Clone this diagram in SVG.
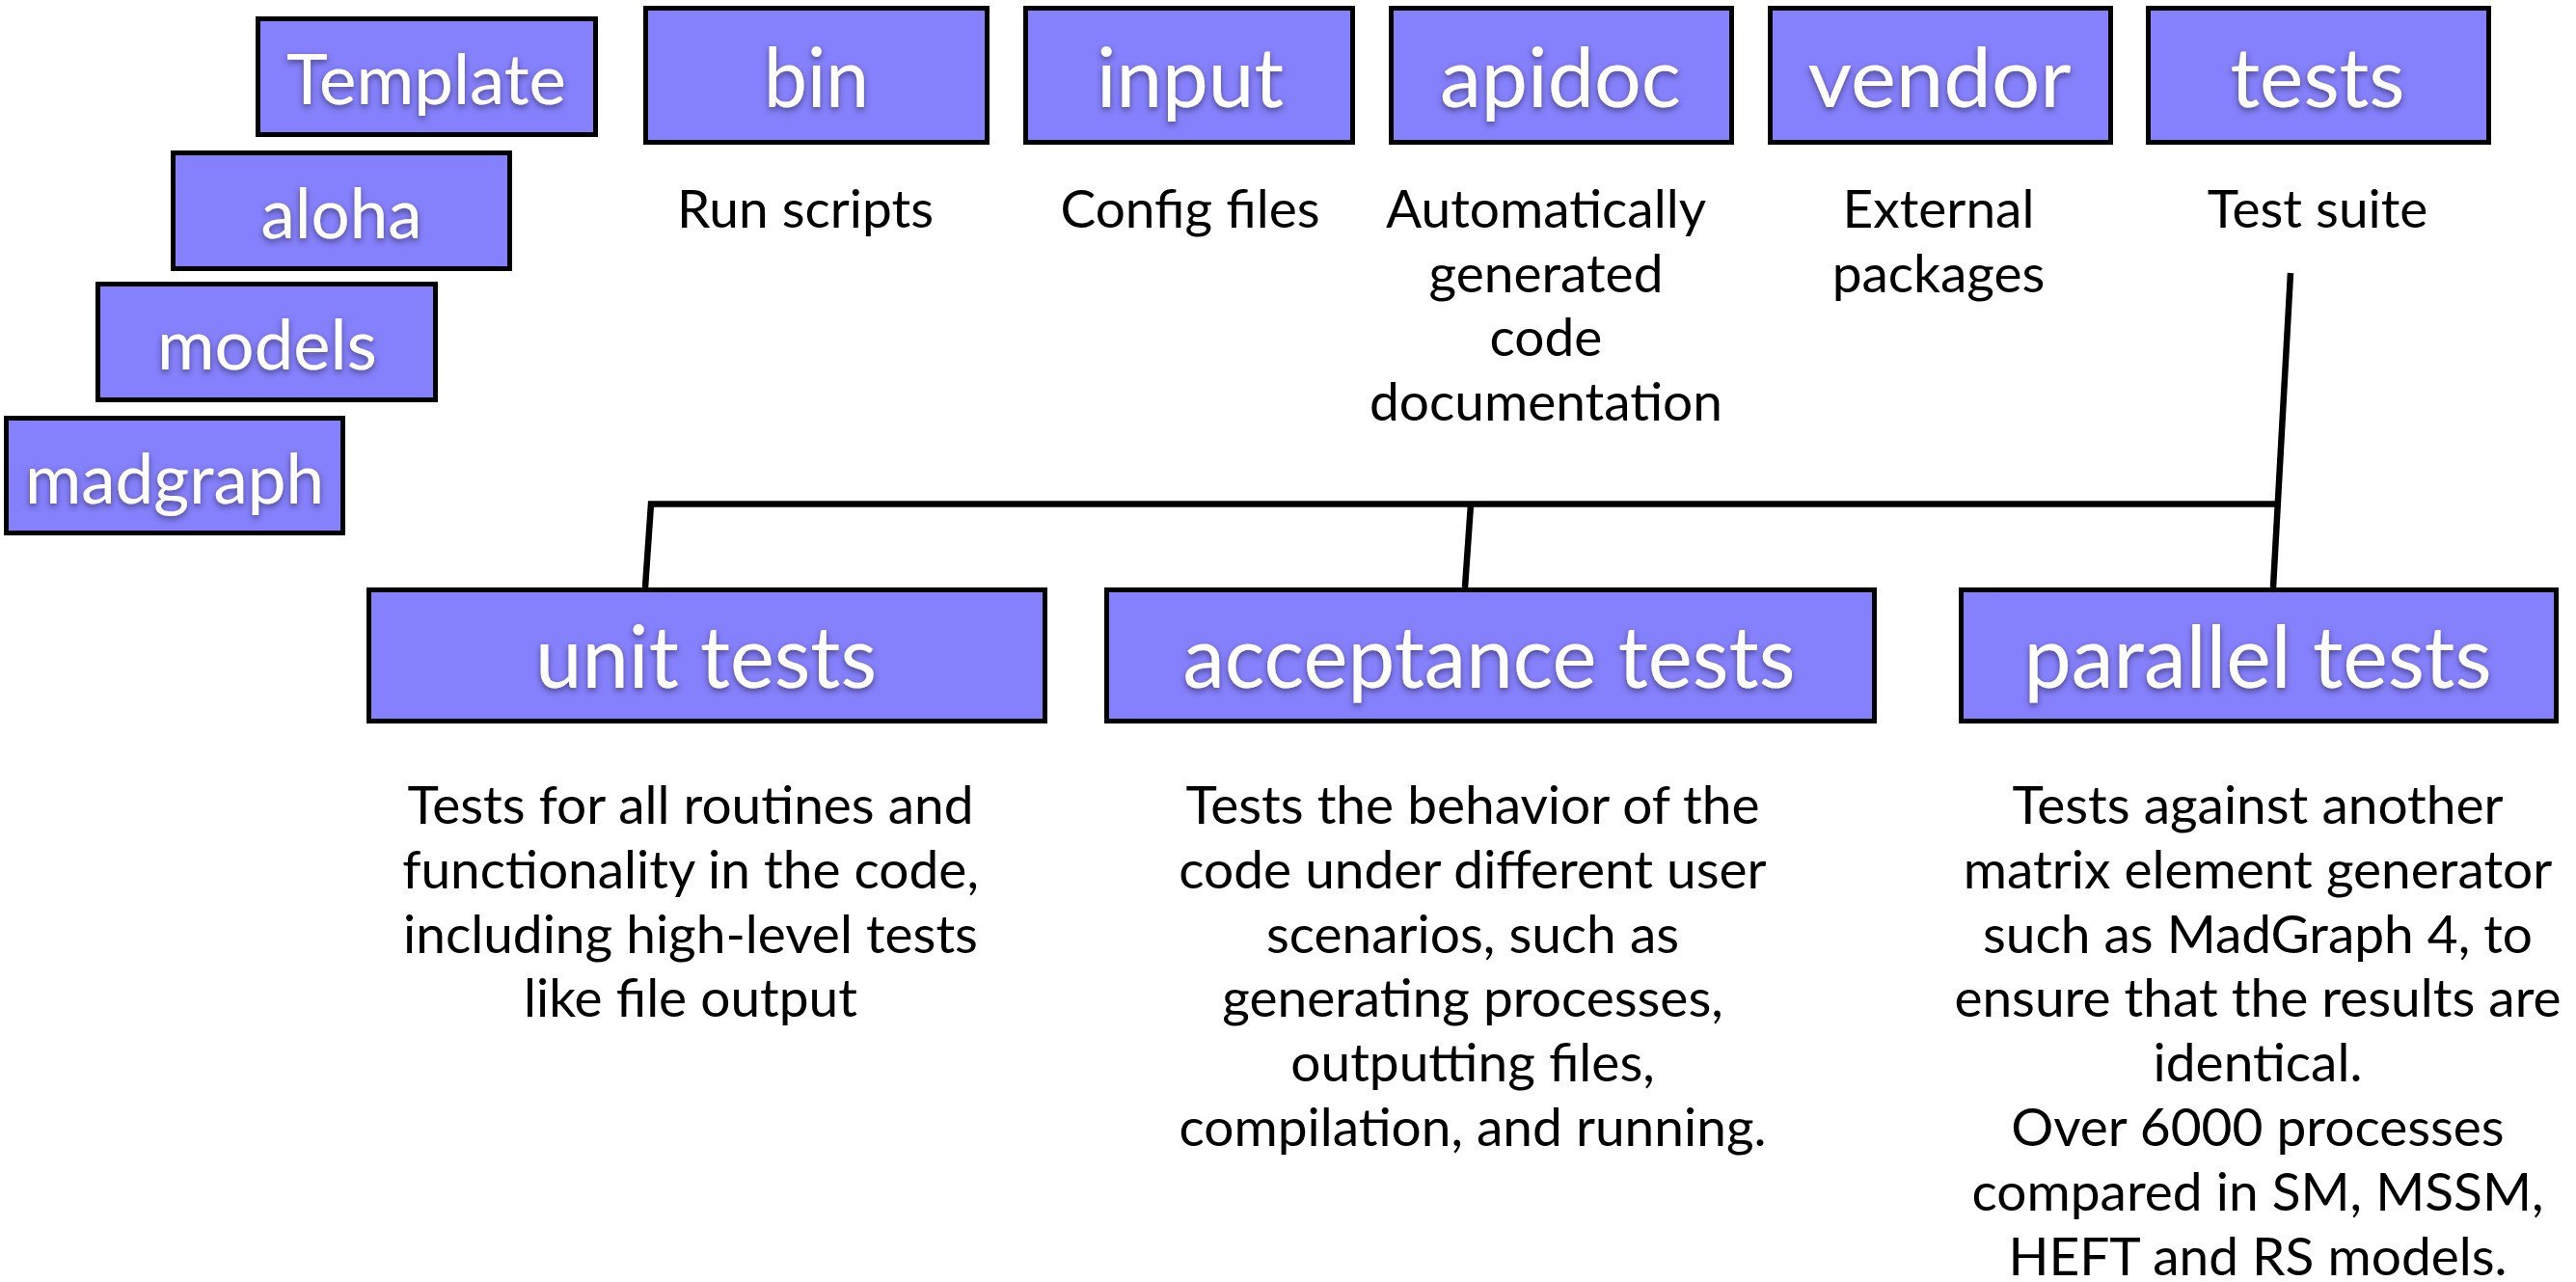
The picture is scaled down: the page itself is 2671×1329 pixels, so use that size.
<svg xmlns="http://www.w3.org/2000/svg" width="2671" height="1329" viewBox="0 0 2671 1329">
<defs>
<style>
.box{fill:#8580fb;stroke:#000;stroke-width:5}
.lbl{font-family:Lato,"Open Sans","Liberation Sans",sans-serif;fill:#fff;text-anchor:middle;filter:url(#sh)}
.s{font-size:72px}
.m{font-size:86px}
.l{font-size:89px}
.desc{font-family:Lato,"Open Sans","Liberation Sans",sans-serif;font-size:55px;fill:#000;text-anchor:middle}
.conn{fill:none;stroke:#000;stroke-width:6.5;stroke-linejoin:miter}
</style>
<filter id="sh" x="-10%" y="-20%" width="120%" height="150%">
<feDropShadow dx="0" dy="3" stdDeviation="3" flood-color="#000" flood-opacity="0.45"/>
</filter>
</defs>
<rect width="2671" height="1329" fill="#fff"/>
<g id="connectors">
<path class="conn" d="M2375 283 L2357 609"/>
<path class="conn" d="M669 609 L675 522.5 L2362 522.5"/>
<path class="conn" d="M1525 522.5 L1519 609"/>
</g>
<g id="template"><rect class="box" x="267.5" y="19.5" width="350" height="120"/><text class="lbl s" x="442" y="108" textLength="290" lengthAdjust="spacingAndGlyphs">Template</text></g>
<g id="aloha"><rect class="box" x="179.5" y="158.5" width="349" height="120"/><text class="lbl s" x="354" y="247" textLength="167" lengthAdjust="spacingAndGlyphs">aloha</text></g>
<g id="models"><rect class="box" x="101.5" y="294.5" width="350" height="120"/><text class="lbl s" x="277" y="383" textLength="228" lengthAdjust="spacingAndGlyphs">models</text></g>
<g id="madgraph"><rect class="box" x="6.5" y="433.5" width="349" height="119"/><text class="lbl s" x="181" y="522" textLength="310" lengthAdjust="spacingAndGlyphs">madgraph</text></g>
<g id="bin"><rect class="box" x="669.5" y="8.5" width="354" height="139"/><text class="lbl m" x="846.5" y="111" textLength="109" lengthAdjust="spacingAndGlyphs">bin</text></g>
<g id="input"><rect class="box" x="1063.5" y="8.5" width="339" height="139"/><text class="lbl m" x="1234" y="111" textLength="194" lengthAdjust="spacingAndGlyphs">input</text></g>
<g id="apidoc"><rect class="box" x="1442.5" y="8.5" width="353" height="139"/><text class="lbl m" x="1618" y="111" textLength="250" lengthAdjust="spacingAndGlyphs">apidoc</text></g>
<g id="vendor"><rect class="box" x="1835.5" y="8.5" width="353" height="139"/><text class="lbl m" x="2011" y="111" textLength="273" lengthAdjust="spacingAndGlyphs">vendor</text></g>
<g id="tests"><rect class="box" x="2227.5" y="8.5" width="353" height="139"/><text class="lbl m" x="2403" y="111" textLength="181" lengthAdjust="spacingAndGlyphs">tests</text></g>
<g id="unit-tests"><rect class="box" x="382.5" y="611.5" width="701" height="136"/><text class="lbl l" x="732" y="713" textLength="354" lengthAdjust="spacingAndGlyphs">unit tests</text></g>
<g id="acceptance-tests"><rect class="box" x="1147.5" y="611.5" width="796" height="136"/><text class="lbl l" x="1544" y="713" textLength="635" lengthAdjust="spacingAndGlyphs">acceptance tests</text></g>
<g id="parallel-tests"><rect class="box" x="2033.5" y="611.5" width="617" height="136"/><text class="lbl l" x="2341" y="713" textLength="485" lengthAdjust="spacingAndGlyphs">parallel tests</text></g>
<g id="desc-bin"><text class="desc" x="835" y="236">Run scripts</text></g>
<g id="desc-input"><text class="desc" x="1234" y="236">Config files</text></g>
<g id="desc-apidoc"><text class="desc" x="1603" y="236"><tspan x="1603" y="236">Automatically</tspan><tspan x="1603" y="302.5">generated</tspan><tspan x="1603" y="369">code</tspan><tspan x="1603" y="435.5">documentation</tspan></text></g>
<g id="desc-vendor"><text class="desc" x="2010" y="236"><tspan x="2010" y="236">External</tspan><tspan x="2010" y="302.5">packages</tspan></text></g>
<g id="desc-tests"><text class="desc" x="2403" y="236">Test suite</text></g>
<g id="desc-unit"><text class="desc" x="716" y="854"><tspan x="716" y="854">Tests for all routines and</tspan><tspan x="716" y="920.8">functionality in the code,</tspan><tspan x="716" y="987.6">including high-level tests</tspan><tspan x="716" y="1054.4">like file output</tspan></text></g>
<g id="desc-acceptance"><text class="desc" x="1527" y="854"><tspan x="1527" y="854">Tests the behavior of the</tspan><tspan x="1527" y="920.8">code under different user</tspan><tspan x="1527" y="987.6">scenarios, such as</tspan><tspan x="1527" y="1054.4">generating processes,</tspan><tspan x="1527" y="1121.2">outputting files,</tspan><tspan x="1527" y="1188">compilation, and running.</tspan></text></g>
<g id="desc-parallel"><text class="desc" x="2341" y="854"><tspan x="2341" y="854">Tests against another</tspan><tspan x="2341" y="920.8">matrix element generator</tspan><tspan x="2341" y="987.6">such as MadGraph 4, to</tspan><tspan x="2341" y="1054.4">ensure that the results are</tspan><tspan x="2341" y="1121.2">identical.</tspan><tspan x="2341" y="1188">Over 6000 processes</tspan><tspan x="2341" y="1254.8">compared in SM, MSSM,</tspan><tspan x="2341" y="1321.6">HEFT and RS models.</tspan></text></g>
</svg>
